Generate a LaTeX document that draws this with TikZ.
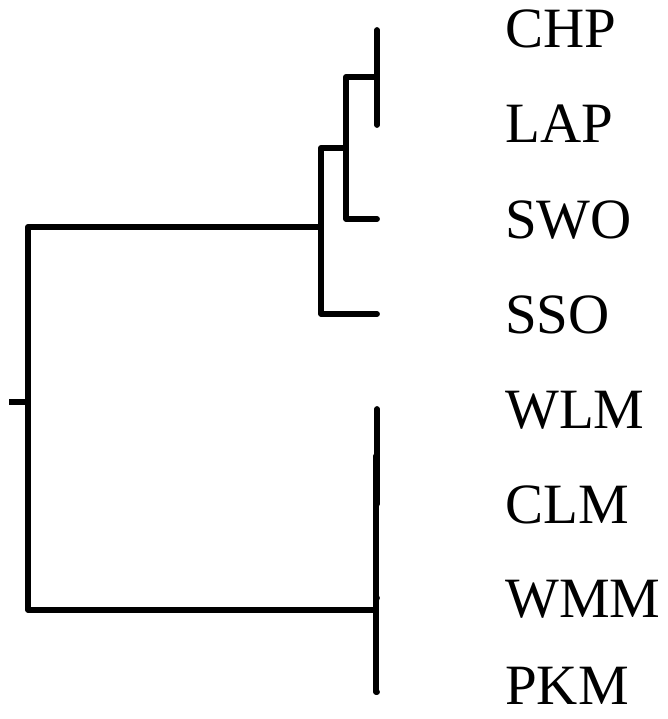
\documentclass[tikz,border=0pt]{standalone}
\usepackage{fontspec}
\setmainfont{Liberation Serif}
\begin{document}
\begin{tikzpicture}[x=1pt,y=-1pt,
  branch/.style={line width=5.8pt,line cap=round,line join=round,black},
  leaflabel/.style={anchor=base west,inner sep=0pt,font=\fontsize{57}{60}\selectfont}]
\useasboundingbox (0,0) rectangle (668,719);
% leaves
\coordinate (l1) at (377,30);
\coordinate (l2) at (377,125);
\coordinate (l3) at (377,219);
\coordinate (l4) at (377,314);
\coordinate (l5) at (377,409);
\coordinate (l6) at (377,504);
\coordinate (l7) at (377,598);
\coordinate (l8) at (377,692);
% internal nodes
\coordinate (n12) at (377,77);
\coordinate (n123) at (346,148);
\coordinate (n1234) at (321,227);
\coordinate (n56) at (377,456);
\coordinate (n567) at (376,527);
\coordinate (n5678) at (376,610);
\coordinate (root) at (28,402);
\coordinate (stub) at (9,402);
% branches
\draw[branch] (l1) -- (l2);
\draw[branch] (n12) -| (n123) |- (l3);
\draw[branch] (n123) -| (n1234) |- (l4);
\draw[branch] (l5) -- (l6);
\draw[branch] (n56) -| (n567) |- (l7);
\draw[branch] (n567) -| (n5678) |- (l8);
\draw[branch] (n1234) -| (root) |- (n5678);
\draw[line width=5.8pt,line cap=butt] (root) -- (stub);
% labels
\node[leaflabel] (t1) at (505,48) {CHP};
\node[leaflabel] (t2) at (505,143) {LAP};
\node[leaflabel] (t3) at (505,238) {SWO};
\node[leaflabel] (t4) at (505,333) {SSO};
\node[leaflabel] (t5) at (505,428) {WLM};
\node[leaflabel] (t6) at (505,523) {CLM};
\node[leaflabel] (t7) at (505,617) {WMM};
\node[leaflabel] (t8) at (505,704) {PKM};
\end{tikzpicture}
\end{document}
